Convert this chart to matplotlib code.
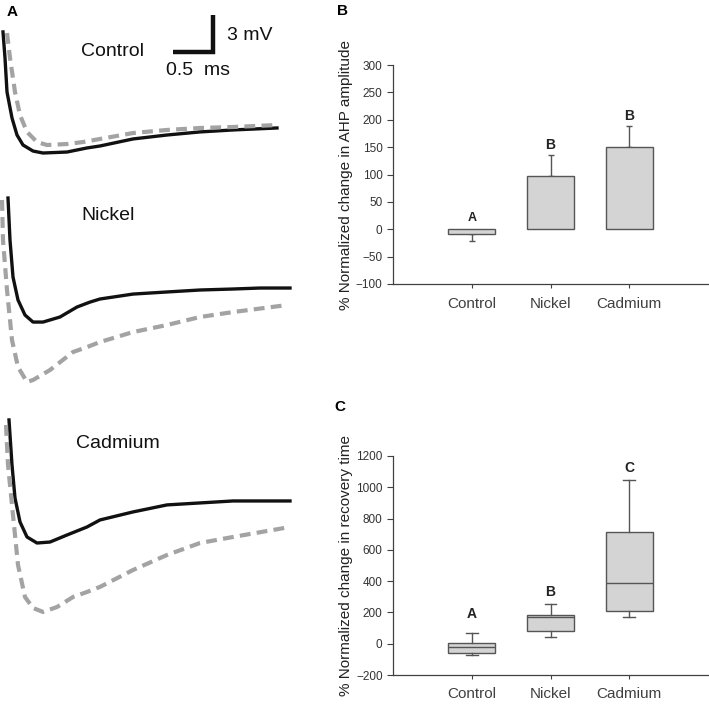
import numpy as np
import matplotlib.pyplot as plt

plt.rcParams['font.family'] = ['Liberation Sans', 'DejaVu Sans']

# ---- panel A traces (time in ms, voltage in mV relative to late baseline)
ctl_t_black = [0, .025, .05, .1125, .175, .25, .375, .5, .8, 1.05, 1.2125, 1.625, 2.05, 2.4625, 2.875, 3.425]
ctl_v_black = [7.79, 5.68, 2.92, 0.81, -0.57, -1.38, -1.87, -2.03, -1.95, -1.62, -1.46, -0.89, -0.57, -0.32, -0.16, 0.0]
ctl_t_gray = [.05, .0875, .15, .2125, .3, .425, .55, .8, 1.0, 1.2125, 1.625, 2.05, 2.4625, 2.875, 3.425]
ctl_v_gray = [7.70, 5.68, 2.92, 1.05, -0.32, -1.14, -1.38, -1.30, -1.14, -0.89, -0.41, -0.16, 0.0, 0.08, 0.24]

ni_t_black = [.0625, .0875, .125, .1875, .275, .375, .5, .7125, .925, 1.0875, 1.2125, 1.625, 2.05, 2.4625, 2.875, 3.2125, 3.5875]
ni_v_black = [7.30, 3.89, 0.89, -0.97, -2.19, -2.76, -2.76, -2.35, -1.54, -1.14, -0.89, -0.49, -0.32, -0.16, -0.08, 0.0, 0.0]
ni_t_gray = [-.0125, 0, .05, .1125, .1875, .3, .375, .5875, .875, 1.05, 1.2125, 1.625, 2.05, 2.4625, 2.875, 3.55]
ni_v_gray = [7.14, 3.89, -0.16, -4.22, -6.41, -7.62, -7.46, -6.65, -5.19, -4.79, -4.38, -3.57, -3.00, -2.35, -1.95, -1.38]

cd_t_black = [.075, .1125, .15, .2125, .3, .425, .5875, .8, 1.05, 1.2125, 1.625, 2.05, 2.4625, 2.875, 3.5875]
cd_v_black = [6.57, 2.92, 0.24, -1.70, -2.92, -3.41, -3.33, -2.76, -2.11, -1.54, -0.89, -0.32, -0.16, 0.0, 0.0]
cd_t_gray = [.0375, .0625, .125, .1875, .275, .375, .5, .675, .875, 1.05, 1.2125, 1.625, 2.05, 2.4625, 2.875, 3.5875]
cd_v_gray = [6.16, 2.92, -1.14, -5.19, -7.79, -8.68, -9.00, -8.60, -7.79, -7.38, -6.97, -5.60, -4.38, -3.41, -2.92, -2.11]

# ---- panel B: AHP amplitude
groups = ['Control', 'Nickel', 'Cadmium']
amp_mean = [-8, 97, 150]
amp_err_lo = [14, 0, 0]
amp_err_hi = [0, 39, 39]
amp_letters = ['A', 'B', 'B']
amp_letter_y = [21, 154, 207]

# ---- panel C: recovery time box plots
rec_q1 = [-57, 83, 211]
rec_med = [-19, 168, 389]
rec_q3 = [2, 185, 711]
rec_lo = [-72, 40, 168]
rec_hi = [70, 251, 1049]
rec_letters = ['A', 'B', 'C']
rec_letter_y = [187, 332, 1126]

W, H = 709, 707
fig = plt.figure(figsize=(W / 100, H / 100), dpi=100)

# ---------------- panel A
px_ms, px_mv = 80.0, 12.33
axA = fig.add_axes([0, 0, 300 / W, 1])
axA.set_xlim(-3 / px_ms, 297 / px_ms)
axA.set_ylim(0, H / px_mv)
axA.axis('off')

rows = [(ctl_t_black, ctl_v_black, ctl_t_gray, ctl_v_gray, 'Control', 46.96, (1.375, 53.2)),
        (ni_t_black, ni_v_black, ni_t_gray, ni_v_gray, 'Nickel', 33.98, (1.3125, 39.9)),
        (cd_t_black, cd_v_black, cd_t_gray, cd_v_gray, 'Cadmium', 16.71, (1.4375, 21.4))]
for tb, vb, tg, vg, name, off, lab in rows:
    axA.plot(tb, np.array(vb) + off, color='#111111', lw=2.4, solid_joinstyle='round')
    axA.plot(tg, np.array(vg) + off, color='#a3a3a3', lw=3.0, dashes=(2.6, 1.5))
    axA.text(lab[0], lab[1], name, fontsize=14, ha='center', va='center', color='#111111')

# scale bar
axA.plot([2.125, 2.625, 2.625], [53.12, 53.12, 56.12], color='#111111', lw=3.2,
         solid_joinstyle='miter', solid_capstyle='butt')
axA.text(2.8, 54.45, '3 mV', fontsize=14, ha='left', va='center', color='#111111')
axA.text(2.44, 51.6, '0.5  ms', fontsize=14, ha='center', va='center', color='#111111')

edge = '#555555'
spine_c = '#404040'
face = '#d4d4d4'
xpos = np.arange(1, 4)


def style_axis(ax, ylabel):
    ax.set_xlim(0, 4)
    ax.spines['top'].set_visible(False)
    ax.spines['right'].set_visible(False)
    for s in ['left', 'bottom']:
        ax.spines[s].set_color(spine_c)
        ax.spines[s].set_linewidth(0.9)
    ax.set_xticks(xpos)
    ax.set_xticklabels(groups, fontsize=11, color='#222222')
    ax.tick_params(axis='y', labelsize=8.5, colors=spine_c, labelcolor='#333333', length=4, width=0.8)
    ax.tick_params(axis='x', colors=spine_c, length=3, width=0.8, pad=6)
    ax.set_ylabel(ylabel, fontsize=11, color='#222222', labelpad=2)


# ---------------- panel B
axB = fig.add_axes([393 / W, 1 - 284 / H, 315 / W, 219 / H])
axB.bar(xpos, amp_mean, width=0.6, color=face, edgecolor=edge, linewidth=1.0, zorder=2)
axB.errorbar(xpos, amp_mean, yerr=[amp_err_lo, amp_err_hi], fmt='none', ecolor=edge,
             elinewidth=1.0, capsize=2.5, capthick=1.0, zorder=1)
for x, lt, ly in zip(xpos, amp_letters, amp_letter_y):
    axB.text(x, ly, lt, fontsize=10 if lt != 'A' else 9, fontweight='bold', ha='center', va='center', color='#222222')
axB.set_ylim(-100, 300)
axB.set_yticks(np.arange(-100, 301, 50))
style_axis(axB, '% Normalized change in AHP amplitude')

# ---------------- panel C
axC = fig.add_axes([393 / W, 1 - 675 / H, 315 / W, 219 / H])
stats = [dict(med=m, q1=a, q3=b, whislo=lo, whishi=hi, fliers=[])
         for m, a, b, lo, hi in zip(rec_med, rec_q1, rec_q3, rec_lo, rec_hi)]
axC.bxp(stats, positions=xpos, widths=0.6, capwidths=0.15, patch_artist=True, showfliers=False,
        boxprops=dict(facecolor=face, edgecolor=edge, linewidth=1.0),
        medianprops=dict(color=edge, linewidth=1.0),
        whiskerprops=dict(color=edge, linewidth=1.0),
        capprops=dict(color=edge, linewidth=1.0))
for x, lt, ly in zip(xpos, rec_letters, rec_letter_y):
    axC.text(x, ly, lt, fontsize=10, fontweight='bold', ha='center', va='center', color='#222222')
axC.set_ylim(-200, 1200)
axC.set_yticks(np.arange(-200, 1201, 200))
style_axis(axC, '% Normalized change in recovery time')

# panel letters
fig.text(12 / W, 1 - 12 / H, 'A', fontsize=11, fontweight='bold', ha='center', va='center')
fig.text(343 / W, 1 - 11 / H, 'B', fontsize=11, fontweight='bold', ha='center', va='center')
fig.text(340 / W, 1 - 407 / H, 'C', fontsize=11, fontweight='bold', ha='center', va='center')

fig.savefig('out.png', dpi=100)
